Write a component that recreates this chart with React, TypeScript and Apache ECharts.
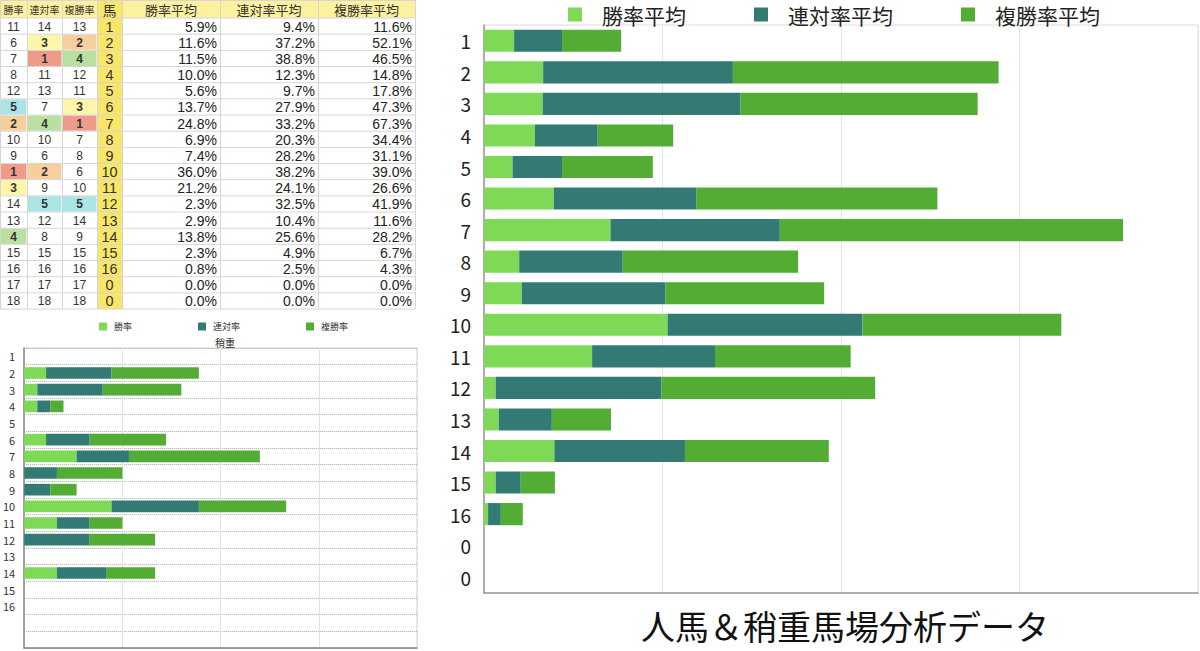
import React, { useEffect, useRef } from "react";
import * as echarts from "echarts";

// ---------- data ----------
const horseNos = ["1", "2", "3", "4", "5", "6", "7", "8", "9", "10", "11", "12", "13", "14", "15", "16", "0", "0"];
const winRank = [11, 6, 7, 8, 12, 5, 2, 10, 9, 1, 3, 14, 13, 4, 15, 16, 17, 18];
const rentaiRank = [14, 3, 1, 11, 13, 7, 4, 10, 6, 2, 9, 5, 12, 8, 15, 16, 17, 18];
const fukushoRank = [13, 2, 4, 12, 11, 3, 1, 7, 8, 6, 10, 5, 14, 9, 15, 16, 17, 18];
const winAvg = [5.9, 11.6, 11.5, 10.0, 5.6, 13.7, 24.8, 6.9, 7.4, 36.0, 21.2, 2.3, 2.9, 13.8, 2.3, 0.8, 0.0, 0.0];
const rentaiAvg = [9.4, 37.2, 38.8, 12.3, 9.7, 27.9, 33.2, 20.3, 28.2, 38.2, 24.1, 32.5, 10.4, 25.6, 4.9, 2.5, 0.0, 0.0];
const fukushoAvg = [11.6, 52.1, 46.5, 14.8, 17.8, 47.3, 67.3, 34.4, 31.1, 39.0, 26.6, 41.9, 11.6, 28.2, 6.7, 4.3, 0.0, 0.0];

const tableHeaders = ["勝率", "連対率", "複勝率", "馬", "勝率平均", "連対率平均", "複勝率平均"];

const smallCats = ["1", "2", "3", "4", "5", "6", "7", "8", "9", "10", "11", "12", "13", "14", "15", "16", "", ""];
const smallWin = [0, 16.7, 10, 10, 0, 16.7, 40, 0, 0, 66.7, 25, 0, 0, 25, 0, 0, 0, 0];
const smallRentai = [0, 50, 50, 10, 0, 33.3, 40, 25, 20, 66.7, 25, 50, 0, 37.5, 0, 0, 0, 0];
const smallFukusho = [0, 66.7, 60, 10, 0, 58.3, 100, 50, 20, 66.7, 25, 50, 0, 37.5, 0, 0, 0, 0];

const smallNames = ["勝率", "連対率", "複勝率"];
const bigNames = ["勝率平均", "連対率平均", "複勝率平均"];
const mainTitle = "人馬＆稍重馬場分析データ";
const subTitle = "稍重";

// ---------- styles ----------
const C_LIGHT = "#7ED957";
const C_TEAL = "#337A75";
const C_GREEN = "#53AC34";
const FONT = "'Noto Sans CJK JP', 'Noto Sans', sans-serif";
const NUM_FONT = "'Liberation Sans', Arial, sans-serif";
const rankColors: Record<number, string> = {
  1: "#EE9B8A",
  2: "#F6CF9C",
  3: "#FDF6A8",
  4: "#B9E0A0",
  5: "#A9E5E5",
};

function buildTable() {
  const colX = [0, 27, 62, 97, 122, 220, 318, 415];
  const headerH = 18;
  const rowH = 16.17;
  const n = horseNos.length;
  const bottom = headerH + rowH * n;
  const children: any[] = [];
  for (let c = 0; c < 7; c++) {
    children.push({
      type: "rect",
      shape: { x: colX[c], y: 0, width: colX[c + 1] - colX[c], height: headerH },
      style: { fill: c === 3 ? "#F8E66A" : "#FBF19E" },
      silent: true,
    });
  }
  children.push({
    type: "rect",
    shape: { x: colX[3], y: headerH, width: colX[4] - colX[3], height: rowH * n },
    style: { fill: "#F8E66A" },
    silent: true,
  });
  const rankCols = [winRank, rentaiRank, fukushoRank];
  for (let r = 0; r < n; r++) {
    const y0 = headerH + rowH * r;
    const cy = y0 + rowH / 2 + 0.5;
    rankCols.forEach((arr, c) => {
      const v = arr[r];
      if (rankColors[v]) {
        children.push({
          type: "rect",
          shape: { x: colX[c] + 0.5, y: y0 + 0.5, width: colX[c + 1] - colX[c] - 1, height: rowH - 1 },
          style: { fill: rankColors[v] },
          silent: true,
        });
      }
      children.push({
        type: "text",
        style: {
          text: String(v),
          x: (colX[c] + colX[c + 1]) / 2,
          y: cy,
          align: "center",
          verticalAlign: "middle",
          fontSize: 12,
          lineHeight: 12,
          fontWeight: v <= 5 ? "bold" : "normal",
          fontFamily: NUM_FONT,
          fill: "#333",
        },
        silent: true,
      });
    });
    children.push({
      type: "text",
      style: {
        text: horseNos[r],
        x: (colX[3] + colX[4]) / 2,
        y: cy,
        align: "center",
        verticalAlign: "middle",
        fontSize: 14.4,
        lineHeight: 14,
        fontFamily: NUM_FONT,
        fill: "#333",
      },
      silent: true,
    });
    [winAvg, rentaiAvg, fukushoAvg].forEach((arr, k) => {
      children.push({
        type: "text",
        style: {
          text: arr[r].toFixed(1) + "%",
          x: colX[5 + k] - 3,
          y: cy,
          align: "right",
          verticalAlign: "middle",
          fontSize: 14,
          lineHeight: 14,
          fontFamily: NUM_FONT,
          fill: "#222",
        },
        silent: true,
      });
    });
  }
  tableHeaders.forEach((h, c) => {
    children.push({
      type: "text",
      style: {
        text: h,
        x: (colX[c] + colX[c + 1]) / 2,
        y: headerH / 2 + 0.5,
        align: "center",
        verticalAlign: "middle",
        fontSize: c < 3 ? 10 : c === 3 ? 14 : 13,
        lineHeight: 14,
        fontFamily: FONT,
        fill: "#333",
      },
      silent: true,
    });
  });
  for (let r = 0; r <= n + 1; r++) {
    const y = r === 0 ? 0.5 : headerH + rowH * (r - 1);
    children.push({
      type: "line",
      shape: { x1: 0, y1: y, x2: colX[7], y2: y },
      style: { stroke: "#D6D6D6", lineWidth: 1 },
      silent: true,
    });
  }
  colX.forEach((x) => {
    children.push({
      type: "line",
      shape: { x1: x + 0.5, y1: 0, x2: x + 0.5, y2: bottom },
      style: { stroke: "#D6D6D6", lineWidth: 1 },
      silent: true,
    });
  });
  return { type: "group", x: 0, y: 0, children };
}

export default function App() {
  const ref = useRef<HTMLDivElement>(null);
  useEffect(() => {
    if (!ref.current) return;
    const chart = echarts.init(ref.current, undefined, { renderer: "svg" });
    const barCommon = { type: "bar", barCategoryGap: "30%" };
    chart.setOption({
      animation: false,
      backgroundColor: "#ffffff",
      textStyle: { fontFamily: FONT },
      title: [
        {
          text: mainTitle,
          left: 840,
          top: 601,
          textAlign: "center",
          textStyle: { fontSize: 34, lineHeight: 38, fontWeight: "normal", color: "#111", fontFamily: FONT },
        },
        {
          text: subTitle,
          left: 220,
          top: 331,
          textAlign: "center",
          textStyle: { fontSize: 10, lineHeight: 12, fontWeight: "normal", color: "#333", fontFamily: FONT },
        },
      ],
      legend: [
        {
          data: bigNames,
          left: 563,
          top: -1,
          itemWidth: 14,
          itemHeight: 14,
          itemGap: 68,
          icon: "rect",
          textStyle: { fontSize: 21, color: "#222", fontFamily: FONT, padding: [0, 0, 0, 15] },
        },
        {
          data: smallNames,
          left: 94,
          top: 316,
          itemWidth: 8,
          itemHeight: 8,
          itemGap: 66,
          icon: "rect",
          textStyle: { fontSize: 9, lineHeight: 11, color: "#333", fontFamily: FONT, padding: [0, 0, 0, 2] },
        },
      ],
      grid: [
        { left: 484, top: 25, width: 714, height: 568, show: true, borderColor: "#DDDDDD", borderWidth: 1 },
        { left: 24, top: 348, width: 393, height: 300, show: true, borderColor: "#D0D0D0", borderWidth: 1 },
      ],
      xAxis: [
        {
          gridIndex: 0,
          type: "value",
          min: 0,
          max: 140,
          interval: 35,
          axisLabel: { show: false },
          axisTick: { show: false },
          axisLine: { show: true, lineStyle: { color: "#999", width: 1.5 } },
          splitLine: { show: true, lineStyle: { color: "#E6E6E6", width: 1 } },
        },
        {
          gridIndex: 1,
          type: "value",
          min: 0,
          max: 300,
          interval: 75,
          axisLabel: { show: false },
          axisTick: { show: false },
          axisLine: { show: true, lineStyle: { color: "#888", width: 1.5 } },
          splitLine: { show: true, lineStyle: { color: "#E2E2E2", width: 1 } },
        },
      ],
      yAxis: [
        {
          gridIndex: 0,
          type: "category",
          inverse: true,
          data: horseNos,
          axisTick: { show: false },
          axisLine: { show: true, lineStyle: { color: "#999", width: 1.5 } },
          axisLabel: { interval: 0, fontSize: 19, color: "#222", margin: 13, fontFamily: FONT },
          splitLine: { show: false },
        },
        {
          gridIndex: 1,
          type: "category",
          inverse: true,
          data: smallCats,
          axisTick: { show: false },
          axisLine: { show: true, lineStyle: { color: "#888", width: 1.5 } },
          axisLabel: { interval: 0, fontSize: 11, color: "#333", margin: 9, fontFamily: FONT },
          splitLine: { show: true, interval: 0, lineStyle: { color: "#AAAAAA", type: "dotted", width: 1 } },
        },
      ],
      series: [
        { ...barCommon, name: bigNames[0], xAxisIndex: 0, yAxisIndex: 0, stack: "big", data: winAvg, itemStyle: { color: C_LIGHT } },
        { ...barCommon, name: bigNames[1], xAxisIndex: 0, yAxisIndex: 0, stack: "big", data: rentaiAvg, itemStyle: { color: C_TEAL } },
        { ...barCommon, name: bigNames[2], xAxisIndex: 0, yAxisIndex: 0, stack: "big", data: fukushoAvg, itemStyle: { color: C_GREEN } },
        { ...barCommon, name: smallNames[0], xAxisIndex: 1, yAxisIndex: 1, stack: "small", data: smallWin, itemStyle: { color: C_LIGHT } },
        { ...barCommon, name: smallNames[1], xAxisIndex: 1, yAxisIndex: 1, stack: "small", data: smallRentai, itemStyle: { color: C_TEAL } },
        { ...barCommon, name: smallNames[2], xAxisIndex: 1, yAxisIndex: 1, stack: "small", data: smallFukusho, itemStyle: { color: C_GREEN } },
      ],
      graphic: [buildTable()],
    });
    return () => chart.dispose();
  }, []);
  return (
    <div
      ref={ref}
      style={{ position: "fixed", left: 0, top: 0, width: 1200, height: 651, background: "#fff" }}
    />
  );
}
